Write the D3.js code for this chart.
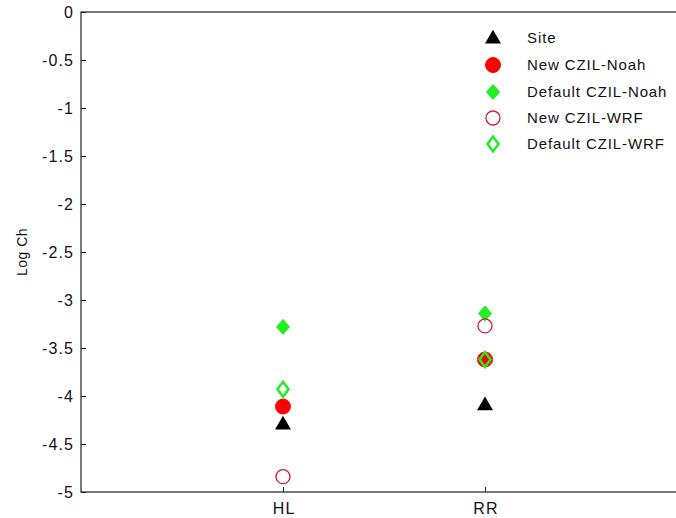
<!doctype html>
<html>
  <head>
    <meta charset="utf-8">
    <title>Log Ch</title>
    <style>
      body { margin: 0; background: #fff; }
      svg { display: block; font-family: Arial, "Liberation Sans", sans-serif; }
    </style>
    <script src="https://cdnjs.cloudflare.com/ajax/libs/d3/7.8.5/d3.min.js"></script>
  </head>
  <body>
    <div id="chart"></div>
    <script>
      // values
      const sites = ['HL', 'RR'];
      const siteObs      = [-4.29, -4.09];
      const newNoah      = [-4.11, -3.62];
      const defaultNoah  = [-3.28, -3.14];
      const newWrf       = [-4.84, -3.27];
      const defaultWrf   = [-3.93, -3.62];
      const yTicks = [0, -0.5, -1, -1.5, -2, -2.5, -3, -3.5, -4, -4.5, -5];

      const series = [
        { name: 'Site', values: siteObs, shape: 'tri', fill: '#000', stroke: '#000' },
        { name: 'New CZIL-Noah', values: newNoah, shape: 'circle', fill: '#ff0000', stroke: '#ff0000' },
        { name: 'Default CZIL-Noah', values: defaultNoah, shape: 'diamond', fill: '#22ee22', stroke: '#22ee22' },
        { name: 'New CZIL-WRF', values: newWrf, shape: 'circle', fill: 'none', stroke: '#cc2038' },
        { name: 'Default CZIL-WRF', values: defaultWrf, shape: 'diamond', fill: 'none', stroke: '#22ee22' }
      ];

      const W = 676, H = 518;
      const svg = d3.select('#chart').append('svg').attr('width', W).attr('height', H);

      const x = d3.scaleLinear().domain([0, 3]).range([81, 687]);
      const y = d3.scaleLinear().domain([-5, 0]).range([492, 12]);

      // box
      svg.append('rect').attr('x', 81).attr('y', 12).attr('width', 687 - 81).attr('height', 480)
        .attr('fill', 'none').attr('stroke', '#222').attr('stroke-width', 1.2);

      const yAxis = d3.axisLeft(y).tickValues(yTicks).tickSize(-5).tickPadding(7)
        .tickFormat(d => String(d));
      const gy = svg.append('g').attr('transform', 'translate(81,0)').call(yAxis);
      gy.select('.domain').remove();
      gy.selectAll('line').attr('stroke', '#222');
      gy.selectAll('text').attr('font-size', 16).attr('fill', '#111')
        .attr('letter-spacing', 1.1)
        .attr('font-family', 'Arial, "Liberation Sans", sans-serif');

      const xAxis = d3.axisBottom(x).tickValues([1, 2]).tickSize(-5).tickPadding(11)
        .tickFormat((d, i) => sites[i]);
      const gx = svg.append('g').attr('transform', 'translate(0,492)').call(xAxis);
      gx.select('.domain').remove();
      gx.selectAll('line').attr('stroke', '#222');
      gx.selectAll('text').attr('font-size', 16).attr('fill', '#111')
        .attr('letter-spacing', 1.2).attr('dx', 0.6)
        .attr('font-family', 'Arial, "Liberation Sans", sans-serif');

      svg.append('text').attr('transform', 'translate(27,252) rotate(-90)')
        .attr('text-anchor', 'middle').attr('font-size', 14).attr('fill', '#111')
        .attr('letter-spacing', 0.5)
        .text('Log Ch');

      function marker(g, s, cx, cy) {
        if (s.shape === 'tri') {
          g.append('path').attr('d', d3.symbol(d3.symbolTriangle, 110)())
            .attr('transform', `translate(${cx},${cy + 1})`)
            .attr('fill', s.fill);
        } else if (s.shape === 'circle') {
          g.append('circle').attr('cx', cx).attr('cy', cy).attr('r', s.fill === 'none' ? 7 : 7.5)
            .attr('fill', s.fill).attr('stroke', s.stroke).attr('stroke-width', s.fill === 'none' ? 1.3 : 1);
        } else {
          const hw = s.fill === 'none' ? 5.5 : 6.5, hh = 7.5;
          g.append('path').attr('d', `M${cx},${cy - hh}L${cx + hw},${cy}L${cx},${cy + hh}L${cx - hw},${cy}Z`)
            .attr('fill', s.fill).attr('stroke', s.stroke).attr('stroke-width', s.fill === 'none' ? 2.5 : 1);
        }
      }

      const plot = svg.append('g');
      series.forEach(s => {
        s.values.forEach((v, i) => marker(plot, s, x(i + 1), y(v)));
      });

      // legend
      const leg = svg.append('g');
      const legY = [38, 65, 92, 118, 144];
      series.forEach((s, i) => {
        marker(leg, s, 493, legY[i]);
        leg.append('text').attr('x', 527).attr('y', legY[i]).attr('dy', '0.35em')
          .attr('font-size', 15).attr('letter-spacing', 0.9)
          .attr('fill', '#111').text(s.name);
      });
    </script>
  </body>
</html>
